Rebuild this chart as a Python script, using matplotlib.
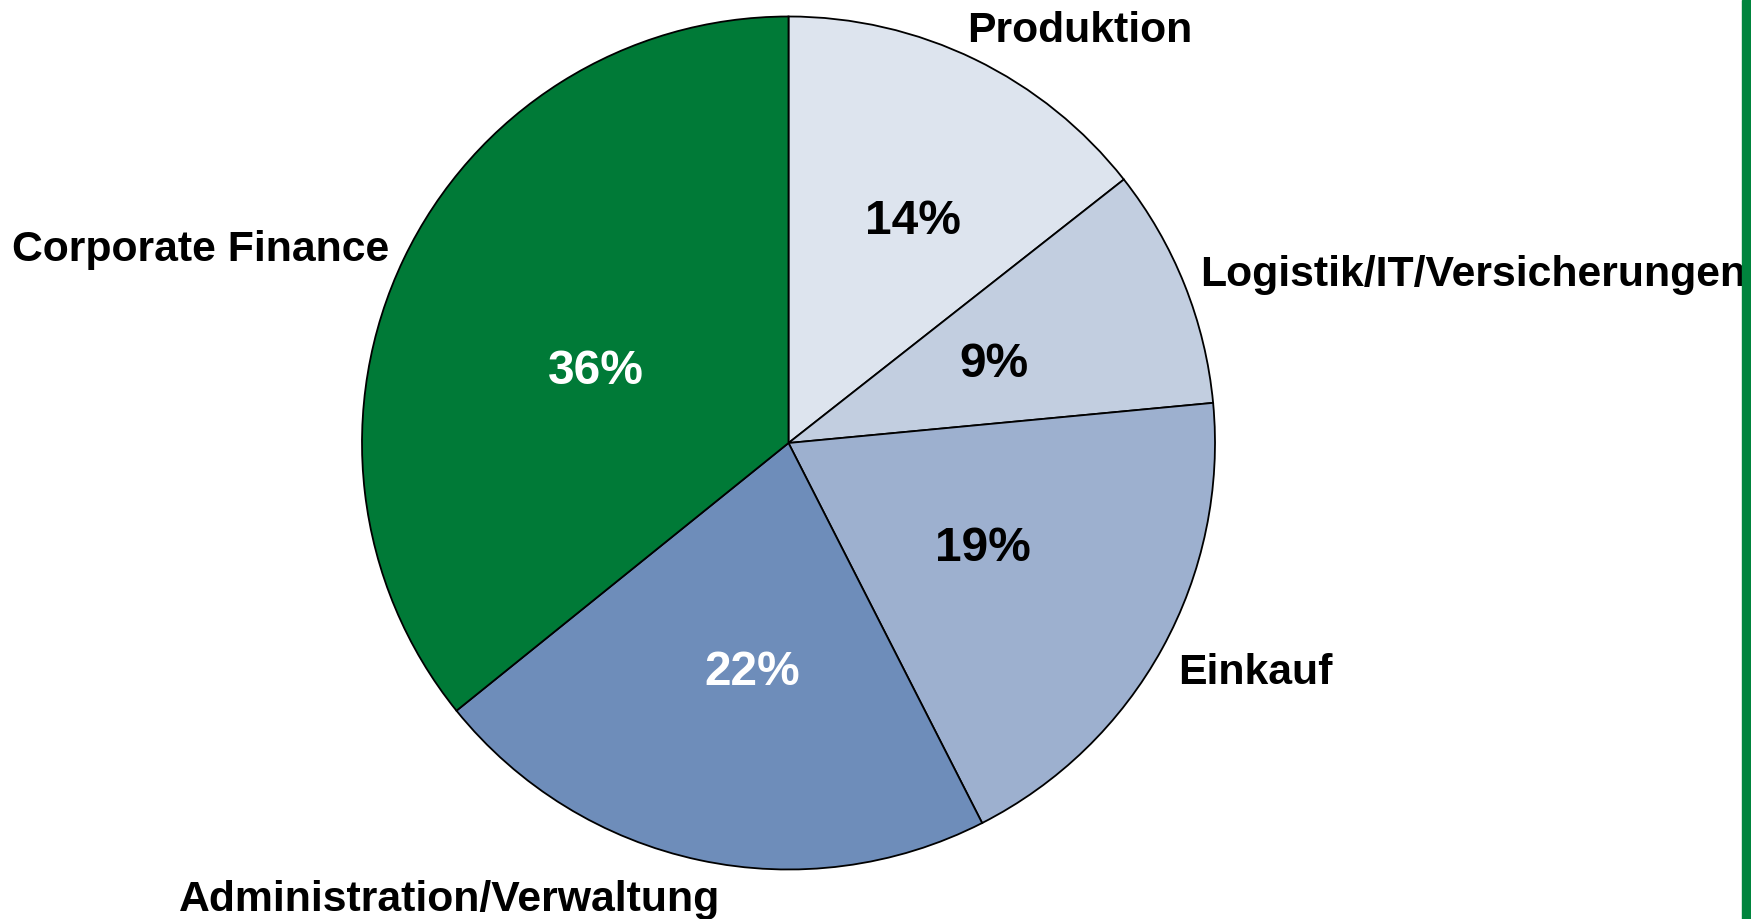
import matplotlib.pyplot as plt
from matplotlib.patches import Rectangle

plt.rcParams['font.family'] = ['Liberation Sans', 'DejaVu Sans']

# Shares, clockwise from 12 o'clock
categories = ['Produktion', 'Logistik/IT/Versicherungen', 'Einkauf',
              'Administration/Verwaltung', 'Corporate Finance']
shares = [14.4, 9.1, 19.0, 21.7, 35.8]
colors = ['#dde4ee', '#c2cee0', '#9db0cf', '#6e8dba', '#007a37']
pct_colors = ['black', 'black', 'black', 'white', 'white']

W, H = 1751, 919
cx, cy, R = 788.5, 443, 426.5   # pie centre/radius in pixels

fig = plt.figure(figsize=(W / 100, H / 100), dpi=100)
ax = fig.add_axes([0, 0, 1, 1])

wedges, _, autotexts = ax.pie(
    shares, colors=colors, startangle=90, counterclock=False,
    autopct='%.0f%%',
    wedgeprops=dict(edgecolor='black', linewidth=1.3),
    textprops=dict(fontsize=34.5, fontweight='bold'))

# percentage labels placed where the original has them
pct_pos = [(0.292, 0.520), (0.482, 0.185), (0.456, -0.247),
           (-0.086, -0.538), (-0.451, 0.168)]
for t, c, p in zip(autotexts, pct_colors, pct_pos):
    t.set_color(c)
    t.set_position(p)

# category labels
label_pos = [(0.418, 0.967, 'left'), (0.964, 0.393, 'left'),
             (0.913, -0.540, 'left'), (-0.795, -1.072, 'center'),
             (-0.937, 0.452, 'right')]
for name, (lx, ly, ha) in zip(categories, label_pos):
    ax.text(lx, ly, name, ha=ha, va='center', fontsize=30.8,
            fontweight='bold', color='black')

ax.set_aspect('auto')
ax.set_xlim(-cx / R, (W - cx) / R)
ax.set_ylim((cy - H) / R, cy / R)
ax.axis('off')

# green strip on the right edge
fig.patches.append(Rectangle((1742 / W, 0), 1 - 1742 / W, 1,
                             transform=fig.transFigure, color='#00843d'))

fig.savefig('out.png', dpi=100, facecolor='white')
